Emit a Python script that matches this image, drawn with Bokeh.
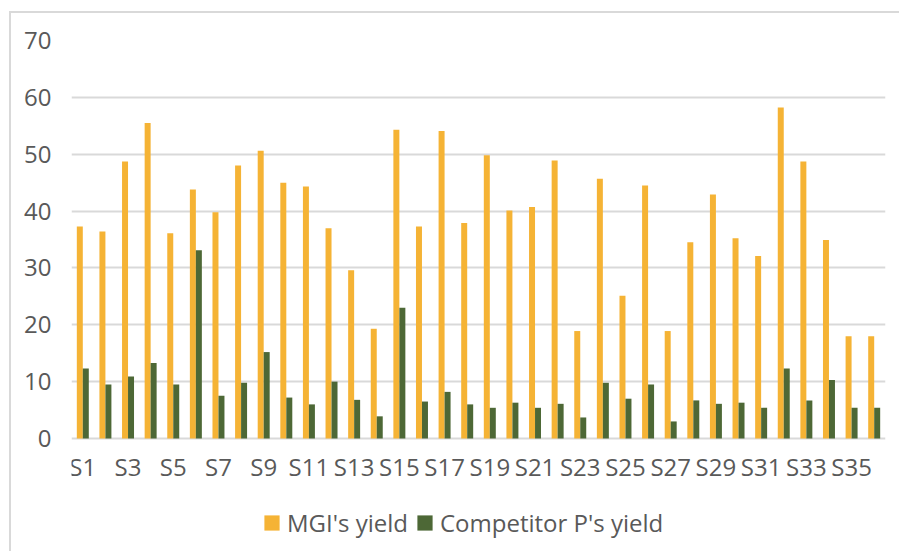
from bokeh.plotting import figure
from bokeh.models import ColumnDataSource, FactorRange, Legend, LegendItem, Range1d, FixedTicker
from bokeh.core.properties import value
from bokeh.transform import dodge
from bokeh.embed import file_html
from bokeh.resources import INLINE

categories = ["S1", "S2", "S3", "S4", "S5", "S6", "S7", "S8", "S9", "S10", "S11", "S12",
              "S13", "S14", "S15", "S16", "S17", "S18", "S19", "S20", "S21", "S22", "S23", "S24",
              "S25", "S26", "S27", "S28", "S29", "S30", "S31", "S32", "S33", "S34", "S35", "S36"]
mgi_yield = [37.3, 36.4, 48.7, 55.5, 36.1, 43.8, 39.8, 48.0, 50.6, 45.0, 44.3, 37.0,
             29.6, 19.3, 54.3, 37.3, 54.1, 37.9, 49.8, 40.1, 40.7, 48.9, 18.9, 45.7,
             25.1, 44.5, 18.9, 34.5, 42.9, 35.2, 32.1, 58.2, 48.7, 34.9, 18.0, 18.0]
competitor_yield = [12.3, 9.5, 10.9, 13.3, 9.5, 33.1, 7.5, 9.8, 15.2, 7.2, 6.0, 10.0,
                    6.8, 3.9, 23.0, 6.5, 8.2, 6.0, 5.4, 6.3, 5.4, 6.1, 3.7, 9.8,
                    7.0, 9.5, 3.0, 6.7, 6.1, 6.3, 5.4, 12.3, 6.7, 10.3, 5.4, 5.4]
y_ticks = [0, 10, 20, 30, 40, 50, 60, 70]
shown_labels = ["S1", "S3", "S5", "S7", "S9", "S11", "S13", "S15", "S17", "S19", "S21", "S23",
                "S25", "S27", "S29", "S31", "S33", "S35"]

ORANGE = "#F5B335"
GREEN = "#4D6836"
TEXT = "#595959"
GRID = "#D9D9D9"
FONT = "Open Sans"
FS = "24px"

# geometry (pixels)
W, H = 890, 540
LEFT, RIGHT, TOP = 60, 16, 27
frame_h = H - TOP                 # frame runs to the bottom of the figure
axis_px = 398                     # pixels spanned by 0..70
px_per_unit = axis_px / 70.0
y_start = -(frame_h - axis_px) / px_per_unit
label_y = -28 / px_per_unit       # category labels below the 0 line

source = ColumnDataSource(dict(cat=categories, mgi=mgi_yield, comp=competitor_yield))
label_src = ColumnDataSource(dict(x=shown_labels, y=[label_y] * len(shown_labels), t=shown_labels))

p = figure(width=W, height=H, x_range=FactorRange(*categories, range_padding=0),
           y_range=Range1d(y_start, 70), output_backend="svg", toolbar_location=None,
           min_border_left=LEFT, min_border_right=RIGHT, min_border_top=TOP, min_border_bottom=0)
p.styles = {"border-top": "2px solid #D9D9D9", "border-left": "2px solid #D9D9D9",
            "margin-top": "11px", "margin-left": "9px"}

bw = 0.265
r1 = p.vbar(x=dodge("cat", -bw / 2, range=p.x_range), top="mgi", width=bw, source=source,
            fill_color=ORANGE, line_color=None)
r2 = p.vbar(x=dodge("cat", bw / 2, range=p.x_range), top="comp", width=bw, source=source,
            fill_color=GREEN, line_color=None)

p.text(x="x", y="y", text="t", source=label_src, text_font=value(FONT), text_font_size=FS,
       text_color=TEXT, text_align="center", text_baseline="middle")

p.outline_line_color = None
p.xgrid.grid_line_color = None
p.xaxis.visible = False
p.yaxis.ticker = FixedTicker(ticks=y_ticks)
p.ygrid.grid_line_color = GRID
p.ygrid.grid_line_width = 2

p.yaxis.axis_line_color = None
p.yaxis.major_tick_line_color = None
p.yaxis.minor_tick_line_color = None
p.yaxis.major_label_text_font = FONT
p.yaxis.major_label_text_font_size = FS
p.yaxis.major_label_text_color = TEXT
p.yaxis.major_label_standoff = 14

legend = Legend(items=[LegendItem(label="MGI's yield", renderers=[r1]),
                       LegendItem(label="Competitor P's yield", renderers=[r2])],
                orientation="horizontal", location=(191, 14))
legend.label_text_font = FONT
legend.label_text_font_size = FS
legend.label_text_color = TEXT
legend.glyph_width = 19
legend.glyph_height = 19
legend.label_standoff = 6
legend.spacing = 7
legend.border_line_color = None
legend.background_fill_alpha = 0
legend.margin = 0
legend.padding = 0
p.add_layout(legend, "center")

open("out.html", "w").write(file_html(p, INLINE))
